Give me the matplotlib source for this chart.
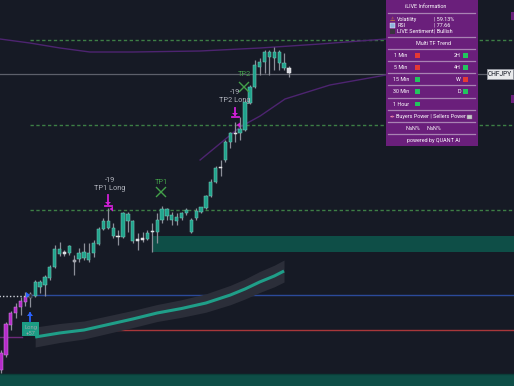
import matplotlib
matplotlib.use("Agg")
import matplotlib.pyplot as plt
from matplotlib.patches import Rectangle, Polygon
import numpy as np

plt.rcParams['font.family'] = ['Roboto', 'DejaVu Sans']

# ---------------- data ----------------
opens  = [160.30,160.45,160.75,160.87,160.93,160.98,161.06,161.04,161.13,161.15,
          161.22,161.33,161.46,161.48,161.47,161.40,161.41,161.42,161.40,161.47,
          161.56,161.71,161.72,161.64,161.64,161.63,161.79,161.59,161.61,161.60,
          161.61,161.68,161.68,161.80,161.84,161.80,161.79,161.82,161.87,161.68,
          161.82,161.88,161.92,162.04,162.18,162.32,162.40,162.58,162.66,162.67,
          162.70,162.97,163.13,163.33,163.38,163.43,163.42,163.37,163.32,163.32]
highs  = [160.50,160.78,160.89,160.97,161.03,161.08,161.08,161.20,161.20,161.25,
          161.35,161.55,161.58,161.50,161.55,161.45,161.52,161.57,161.57,161.60,
          161.73,161.82,161.92,161.77,161.70,161.88,161.88,161.80,161.67,161.68,
          161.70,161.77,161.87,161.94,161.92,161.88,161.87,161.88,161.92,161.82,
          161.92,161.93,162.05,162.21,162.34,162.40,162.60,162.68,162.78,162.83,
          163.00,163.15,163.40,163.42,163.50,163.50,163.53,163.50,163.47,163.34]
lows   = [160.27,160.43,160.70,160.82,160.85,160.94,160.93,161.03,161.07,161.04,
          161.20,161.32,161.44,161.44,161.45,161.25,161.38,161.40,161.38,161.43,
          161.55,161.70,161.71,161.62,161.55,161.62,161.68,161.57,161.50,161.58,
          161.60,161.48,161.57,161.77,161.80,161.75,161.75,161.80,161.85,161.67,
          161.80,161.87,161.91,162.03,162.17,162.24,162.38,162.52,162.58,162.60,
          162.69,162.96,163.12,163.25,163.27,163.25,163.30,163.30,163.30,163.23]
closes = [160.47,160.76,160.87,160.93,160.99,161.03,161.02,161.18,161.18,161.23,
          161.33,161.51,161.51,161.46,161.54,161.38,161.47,161.48,161.47,161.57,
          161.71,161.79,161.79,161.72,161.63,161.87,161.86,161.79,161.59,161.62,
          161.67,161.69,161.80,161.91,161.91,161.85,161.83,161.87,161.90,161.80,
          161.89,161.93,162.04,162.18,162.32,162.33,162.58,162.67,162.67,162.71,
          162.98,163.13,163.35,163.38,163.48,163.48,163.48,163.48,163.37,163.27]
kinds  = ['m','m','m','m','m','m','d','t','t','t',
          't','t','t','w','t','g','t','t','t','t',
          't','t','t','t','w','t','t','t','w','w',
          't','w','t','t','t','t','t','t','t','t',
          't','t','t','t','t','w','t','t','w','t',
          't','t','t','t','t','t','t','t','t','w']

# moving average (index, value) and its band half width
ma_idx  = [7, 12, 17, 22, 27, 32, 37, 42, 47, 50, 53, 56, 58]
ma_val  = [160.63,160.67,160.70,160.755,160.81,160.87,160.915,160.97,161.05,161.11,161.18,161.24,161.29]
ma_band = [0.10,0.095,0.09,0.088,0.086,0.085,0.088,0.092,0.097,0.10,0.105,0.108,0.11]

# purple envelope curves (index, value)
up_idx = [-0.2, 5.9, 12.1, 18.2, 27.0, 40.8, 53.1, 65.4, 78.9]
up_val = [163.61,163.57,163.52,163.48,163.48,163.49,163.52,163.56,163.61]
lo_idx = [40.8, 49.0, 53.1, 58.2, 67.4, 78.9]
lo_val = [162.40,162.73,162.84,163.01,163.15,163.25]

# levels
tp_top, last_price, tp2_level, tp1_level = 163.60, 163.26, 162.75, 161.90
entry_level, stop_level, purple_level = 161.05, 160.70, 160.63
zone1 = (161.48, 161.64)
zone2 = (160.14, 160.26)

# panel content
vol_text, rsi_text, sent_text = "59.13%", "77.66", "Bullish"
tf_left  = [("1 Min", 'r'), ("5 Min", 'r'), ("15 Min", 'g'), ("30 Min", 'g'), ("1 Hour", 'g')]
tf_right = [("2H", 'g'), ("4H", 'g'), ("W", 'r'), ("D", 'g')]

# ---------------- style ----------------
BG = '#161a25'
TEAL = '#1fa38c'
MAG = '#b52bc9'
PURP = '#6a1f7b'

W, H = 514, 386
fig = plt.figure(figsize=(W/100, H/100), dpi=100, facecolor=BG)
ax = fig.add_axes([0, 0, 1, 1], facecolor=BG)
px = 4.88  # pixels per bar
ax.set_xlim(-1/px, (W-1)/px)
ax.set_ylim(164 - H/100, 164.0)
ax.axis('off')

X_END = (W-1)/px

# zones
ax.add_patch(Rectangle((30.9, zone1[0]), X_END-30.9+1, zone1[1]-zone1[0], color='#0e4e47', lw=0, zorder=1))
ax.add_patch(Rectangle((-1, zone2[0]), X_END+2, zone2[1]-zone2[0], color='#0e4e47', lw=0, zorder=1))
ax.plot([-1, X_END+1], [zone2[1], zone2[1]], color='#0b3d38', lw=1, zorder=1)

# levels
dash = dict(color='#3d7f45', lw=1.0, dashes=(2.4, 1.8), zorder=2)
ax.plot([5.9, X_END+1], [tp_top]*2, **dash)
ax.plot([5.9, X_END+1], [tp2_level]*2, **dash)
ax.plot([5.9, X_END+1], [tp1_level]*2, **dash)
ax.plot([-1, 99.6], [last_price]*2, color='#5d606b', lw=0.9, zorder=2)
ax.plot([5.5, X_END+1], [entry_level]*2, color='#2b4a9a', lw=1.0, zorder=2)
ax.plot([-1, 5.5], [entry_level-0.01]*2, color='#d1d4dc', lw=1.0, ls=(0, (1, 1.5)), zorder=2)
ax.plot([6.9, X_END+1], [stop_level]*2, color='#a8373a', lw=1.0, zorder=2)
ax.plot([-1, 4.3], [purple_level]*2, color='#6d2a7a', lw=1.0, zorder=2)

# purple envelope
ax.plot(up_idx, up_val, color='#4d2470', lw=1.0, zorder=2)
ax.plot(lo_idx, lo_val, color='#4d2470', lw=1.0, zorder=2)

# MA band + line
mi = np.array(ma_idx, float); mv = np.array(ma_val); mb = np.array(ma_band)
ax.fill_between(mi, mv-mb, mv+mb, color='#2b2e39', lw=0, zorder=2)
ax.plot(mi, mv, color='#1f9e88', lw=2.2, zorder=3, solid_capstyle='butt')

# candles
col = {'m': (MAG, '#d48ae2'), 't': (TEAL, '#7cc9bb'), 'w': ('#d6d8de', '#f0f0f0'),
       'g': ('#9598a1', '#c0c2c8'), 'd': ('#2a2e39', '#787b86')}
bw = 0.68
for i, (o, h, l, c, k) in enumerate(zip(opens, highs, lows, closes, kinds)):
    ax.vlines(i, l, h, color='#8c8f99', lw=0.9, zorder=4)
    lo_b, hi_b = min(o, c), max(o, c)
    hgt = max(hi_b - lo_b, 0.012)
    fc, ec = col[k]
    ax.add_patch(Rectangle((i - bw/2, lo_b), bw, hgt, facecolor=fc, edgecolor=ec, lw=0.35, zorder=5))

# ---------------- overlay in pixel coords ----------------
ov = fig.add_axes([0, 0, 1, 1], facecolor='none')
ov.set_xlim(0, W); ov.set_ylim(H, 0); ov.axis('off')

# signal annotations
gtxt = '#b2b5be'
afs = 5.3
ov.text(110, 180, "-19", color=gtxt, fontsize=afs, ha='center', va='center')
ov.text(110, 188, "TP1 Long", color=gtxt, fontsize=afs, ha='center', va='center')
ov.text(235, 93, "-19", color=gtxt, fontsize=afs, ha='center', va='center')
ov.text(235, 100, "TP2 Long", color=gtxt, fontsize=afs, ha='center', va='center')
ov.text(161, 182, "TP1", color='#43a04a', fontsize=afs, ha='center', va='center')
ov.text(244, 75, "TP2", color='#43a04a', fontsize=afs, ha='center', va='center')
for (cx, cy) in [(161, 192), (244, 87)]:
    ov.plot([cx-4.5, cx+4.5], [cy-4.5, cy+4.5], color='#43a04a', lw=1.0)
    ov.plot([cx-4.5, cx+4.5], [cy+4.5, cy-4.5], color='#43a04a', lw=1.0)

MAGA = '#d21fd8'
for (cx, top, bar, tri) in [(108, 195, 206, (112, 209)), (235, 108, 117, (239, 125))]:
    ov.plot([cx, cx], [top, bar-2], color=MAGA, lw=1.3)
    ov.add_patch(Polygon([[cx-3, bar-4], [cx+3, bar-4], [cx, bar-1]], closed=True, color=MAGA, lw=0))
    ov.plot([cx-3.5, cx+3.5], [bar, bar], color=MAGA, lw=1.3)
    tx, ty = tri
    ov.add_patch(Polygon([[tx-2.5, ty], [tx+1, ty-2.5], [tx+1, ty+2.5]], closed=True, color=MAGA, lw=0))

# Long label and arrow
ov.add_patch(Rectangle((22, 322), 17, 14, facecolor='#1b9c84', edgecolor='#1b9c84', lw=0, zorder=5))
ov.text(30.5, 327, "Long", color='#9aa3a8', fontsize=4.2, ha='center', va='center', zorder=6)
ov.text(30.5, 333, "+57", color='#9aa3a8', fontsize=4.2, ha='center', va='center', zorder=6)
ov.plot([30, 30], [313, 321], color='#2962ff', lw=1.3)
ov.add_patch(Polygon([[27, 316], [33, 316], [30, 312]], closed=True, color='#2962ff', lw=0))
ov.add_patch(Polygon([[26, 292], [26, 298], [30, 295]], closed=True, color='#2962ff', lw=0))

# CHFJPY label
ov.add_patch(Rectangle((487, 69), 26, 10, facecolor='#e9eaec', edgecolor='#9598a1', lw=0.6, zorder=6))
ov.text(500, 74.3, "CHFJPY", color='#131722', fontsize=4.8, ha='center', va='center', zorder=7)

# right edge slivers
ov.add_patch(Rectangle((511, 12), 4, 8, color=PURP, lw=0))
ov.add_patch(Rectangle((511, 95), 4, 8, color=PURP, lw=0))

# info panel
ov.add_patch(Rectangle((386, 0), 92, 146, facecolor=PURP, edgecolor='none', zorder=8))
for sy in [13.3, 37.3, 49.3, 61, 73.3, 85.3, 98, 110, 122, 134]:
    ov.plot([388, 475], [sy, sy], color='#a982b3', lw=0.9, zorder=9)
fs = 3.9
tk = dict(color='white', fontsize=fs, va='center', zorder=10)
ov.text(426, 7, "iLIVE Information", ha='center', **tk)
ov.text(392, 19.3, "\u26a0", color='#f5a623', fontsize=4.2, ha='center', va='center', zorder=10,
        family=['DejaVu Sans'])
ov.add_patch(Rectangle((389.5, 23), 5, 4.5, facecolor='#8fb3dc', edgecolor='white', lw=0.3, zorder=10))
ov.add_patch(Rectangle((389.5, 29), 5, 4.5, facecolor='#3a3340', edgecolor='none', lw=0, zorder=10))
ov.text(397, 19.3, "Volatility", ha='left', **tk)
ov.text(397, 25.3, "RSI", ha='left', **tk)
ov.text(397, 31.3, "LIVE Sentiment", ha='left', **tk)
ov.text(433.5, 19.3, "| " + vol_text, ha='left', **tk)
ov.text(433.5, 25.3, "| " + rsi_text, ha='left', **tk)
ov.text(433.5, 31.3, "| " + sent_text, ha='left', **tk)
ov.text(434, 43.3, "Multi TF Trend", ha='center', **tk)
sq = {'r': '#e53935', 'g': '#22c55e'}
rows_y = [55.5, 67.5, 79.5, 91.7, 104]
for (lab, c), yy in zip(tf_left, rows_y):
    ov.text(401, yy, lab, ha='center', **tk)
    ov.add_patch(Rectangle((415, yy-2.3), 4.6, 4.6, facecolor=sq[c], edgecolor='none', zorder=10))
for (lab, c), yy in zip(tf_right, rows_y):
    ov.text(461, yy, lab, ha='right', **tk)
    ov.add_patch(Rectangle((463, yy-2.3), 4.6, 4.6, facecolor=sq[c], edgecolor='none', zorder=10))
ov.text(392, 116.7, "\u2712", color='#f48fb1', fontsize=4.2, ha='center', va='center', zorder=10,
        family=['DejaVu Sans'])
ov.text(431, 116.7, "Buyers Power | Sellers Power", ha='center', **tk)
ov.add_patch(Rectangle((467, 114.5), 4.5, 4.5, facecolor='#c8c8cc', edgecolor='#888', lw=0.3, zorder=10))
ov.text(413, 128, "NaN%", ha='center', **tk)
ov.text(434, 128, "NaN%", ha='center', **tk)
ov.text(434, 140.7, "powered by QUANT AI", ha='center', **tk)

fig.savefig("out.png", dpi=100, facecolor=BG)
